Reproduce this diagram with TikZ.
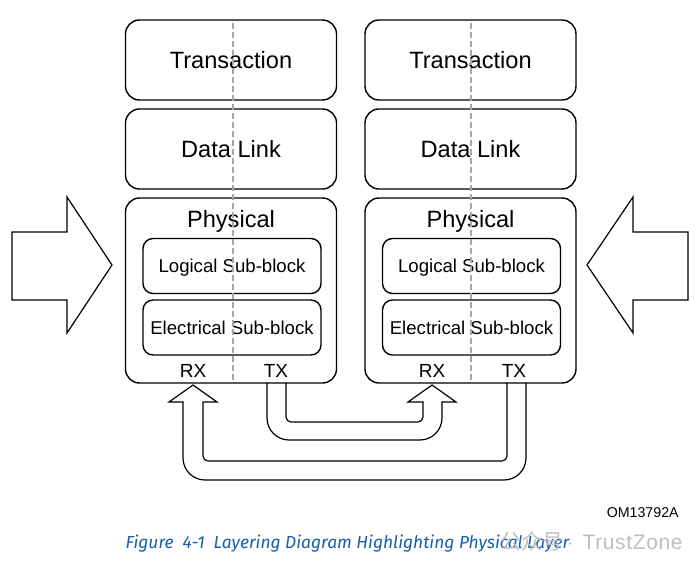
\documentclass[tikz,border=0pt]{standalone}
\usepackage{fontspec}
\setmainfont{Liberation Sans}
\newfontfamily\capfont{Fira Sans}
\newfontfamily\cjk{Noto Sans CJK SC}
\definecolor{capblue}{RGB}{20,95,175}
\definecolor{divgray}{RGB}{165,165,170}
\definecolor{markgray}{RGB}{190,190,190}

\begin{document}
\begin{tikzpicture}[x=0.5pt, y=-0.5pt, line width=0.7pt,
  layer/.style={draw, rounded corners=7pt, minimum width=105.5pt, minimum height=40pt, text depth=0pt, font=\fontsize{11.8}{14}\selectfont},
  sub/.style={draw, rounded corners=5pt, minimum width=89pt, minimum height=27.5pt, text depth=0pt, font=\fontsize{9.3}{11}\selectfont},
  port/.style={font=\fontsize{9.5}{11}\selectfont},
  divider/.style={divgray, line width=1.2pt, dash pattern=on 3pt off 1.5pt},
  bigarrow/.style={line width=0.6pt, line join=miter, line cap=round}]
  \useasboundingbox (0,0) rectangle (700,567);

  % left device
  \node[layer] (tL) at (231,60) {Transaction};
  \node[layer] (dL) at (231,149) {Data Link};
  \node[layer, minimum height=92.5pt] (pL) at (231,290.5) {};
  \node[font=\fontsize{11.8}{14}\selectfont] (pLt) at (231,221.5) {Physical};
  \node[sub] (lL) at (232,266) {Logical Sub-block};
  \node[sub] (eL) at (232,327.5) {Electrical Sub-block};
  \node[port] (rxL) at (193,371) {RX};
  \node[port] (txL) at (276,371) {TX};
  \draw[divider] (233,23) -- (233,381);

  % right device
  \node[layer] (tR) at (470.5,60) {Transaction};
  \node[layer] (dR) at (470.5,149) {Data Link};
  \node[layer, minimum height=92.5pt] (pR) at (470.5,290.5) {};
  \node[font=\fontsize{11.8}{14}\selectfont] (pRt) at (470.5,221.5) {Physical};
  \node[sub] (lR) at (471.5,266) {Logical Sub-block};
  \node[sub] (eR) at (471.5,327.5) {Electrical Sub-block};
  \node[port] (rxR) at (432,371) {RX};
  \node[port] (txR) at (514,371) {TX};
  \draw[divider] (471,23) -- (471,381);

  % side arrows
  \draw[bigarrow] (12,232) -- (67,232) -- (67,197) -- (112,265) -- (67,333) -- (67,300) -- (12,300) -- cycle;
  \draw[bigarrow] (688,232) -- (633,232) -- (633,197) -- (587,265) -- (633,333) -- (633,300) -- (688,300) -- cycle;

  % TX left -> RX right
  \draw[bigarrow, rounded corners=11pt] (267,383) -- (267,440) -- (442,440) -- (442,402);
  \draw[bigarrow] (442,402) -- (456,402) -- (432,385) -- (408,402) -- (423,402);
  \draw[bigarrow, rounded corners=2.5pt] (423,402) -- (423,422) -- (286,422) -- (286,383);
  % TX right -> RX left
  \draw[bigarrow, rounded corners=11pt] (526,383) -- (526,480) -- (183,480) -- (183,402);
  \draw[bigarrow] (183,402) -- (169,402) -- (193,385) -- (217,402) -- (203,402);
  \draw[bigarrow, rounded corners=2.5pt] (203,402) -- (203,461) -- (507,461) -- (507,383);

  \node[anchor=east, font=\fontsize{7.1}{9}\selectfont] (om) at (686,513) {OM13792A};
  \node[anchor=west, inner sep=0pt, text=capblue, font=\capfont\itshape\fontsize{8.7}{10}\selectfont] (cap) at (125,544) {Figure~ 4-1~ Layering Diagram Highlighting Physical Layer};
  \node[anchor=west, inner sep=0pt, text=markgray, font=\fontsize{10.5}{12}\selectfont] (mark) at (500,541) {{\cjk 公众号}\,$\cdot$\, \addfontfeature{LetterSpace=3}TrustZone};
\end{tikzpicture}
\end{document}
